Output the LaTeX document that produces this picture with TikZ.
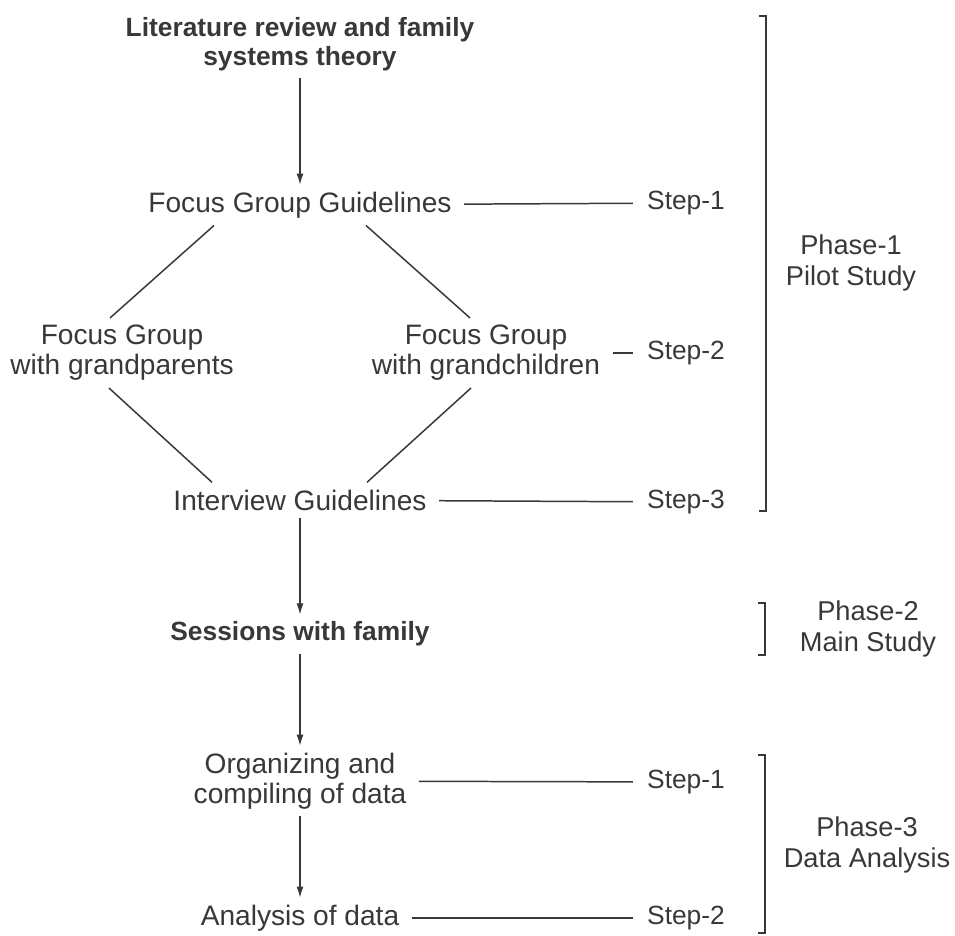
\documentclass[tikz,border=0pt]{standalone}
\usepackage{fontspec}
\setmainfont{Liberation Sans}
\usepackage{tikz}
\usetikzlibrary{arrows.meta, calc}
\definecolor{tinte}{HTML}{383838}
\tikzset{
    knoten/.style  = {align=center, inner sep=4pt, text=tinte,
                      font=\fontsize{16}{17}\selectfont},
    haupt/.style   = {knoten, font=\fontsize{15}{16.5}\selectfont\bfseries},
    stufe/.style   = {inner sep=4pt, text=tinte, font=\fontsize{15}{17}\selectfont},
    phase/.style   = {align=center, text=tinte, font=\fontsize{15.5}{17.5}\selectfont},
    pfeil/.style   = {-{Latex[length=2.2mm, width=1.4mm]}, draw=tinte, line width=0.6pt},
    strich/.style  = {draw=tinte, line width=0.85pt},
    klammer/.style = {draw=tinte, line width=0.9pt}
}

\begin{document}
\begin{tikzpicture}[x=0.02cm, y=-0.02cm,
        verbind/.style = {strich, shorten <=3pt, shorten >=4pt}]
    \useasboundingbox (0,0) rectangle (955,935);

    % Hauptspalte
    \node[haupt]  (lit) at (300,44)  {Literature review and family\\systems theory};
    \node[knoten] (fgg) at (300,205) {Focus Group Guidelines};
    \node[knoten] (fgp) at (122,353) {Focus Group\\with grandparents};
    \node[knoten] (fgc) at (486,353) {Focus Group\\with grandchildren};
    \node[knoten] (ig)  at (300,500) {Interview Guidelines};
    \node[haupt]  (swf) at (300,634) {Sessions with family};
    \node[knoten] (ocd) at (300,781) {Organizing and\\compiling of data};
    \node[knoten] (aod) at (300,918) {Analysis of data};

    % Schritte
    \node[stufe] (ps1) at (686,203) {Step-1};
    \node[stufe] (ps2) at (686,353) {Step-2};
    \node[stufe] (ps3) at (686,502) {Step-3};
    \node[stufe] (as1) at (686,782) {Step-1};
    \node[stufe] (as2) at (686,918) {Step-2};

    % Phasen
    \node[phase] (ph1) at (851,263) {Phase-1\\Pilot Study};
    \node[phase] (ph2) at (868,629) {Phase-2\\Main Study};
    \node[phase] (ph3) at (867,845) {Phase-3\\Data Analysis};

    % Pfeile
    \draw[pfeil] (lit) -- (fgg);
    \draw[pfeil] (ig)  -- (swf);
    \draw[pfeil] (swf) -- (ocd);
    \draw[pfeil] (ocd) -- (aod);

    % Raute der Fokusgruppen
    \draw[strich] ($(fgg.south)+(-86,0)$) -- ($(fgp.north)+(-12,0)$);
    \draw[strich] ($(fgg.south)+(66,0)$)  -- ($(fgc.north)+(-16,0)$);
    \draw[strich] ($(fgp.south)+(-13,0)$) -- ($(ig.north)+(-88,0)$);
    \draw[strich] ($(fgc.south)+(-15,0)$) -- ($(ig.north)+(67,0)$);

    % Verbindungen zu den Schritten
    \draw[verbind] (fgg) -- (ps1);
    \draw[verbind] (fgc) -- (ps2);
    \draw[verbind] (ig)  -- (ps3);
    \draw[verbind] (ocd) -- (as1);
    \draw[verbind] (aod) -- (as2);

    % Klammern
    \draw[klammer] (759,16)  -- (766,16)  -- (766,511) -- (759,511);
    \draw[klammer] (758,603) -- (765,603) -- (765,655) -- (758,655);
    \draw[klammer] (758,755) -- (765,755) -- (765,933) -- (758,933);
\end{tikzpicture}
\end{document}
